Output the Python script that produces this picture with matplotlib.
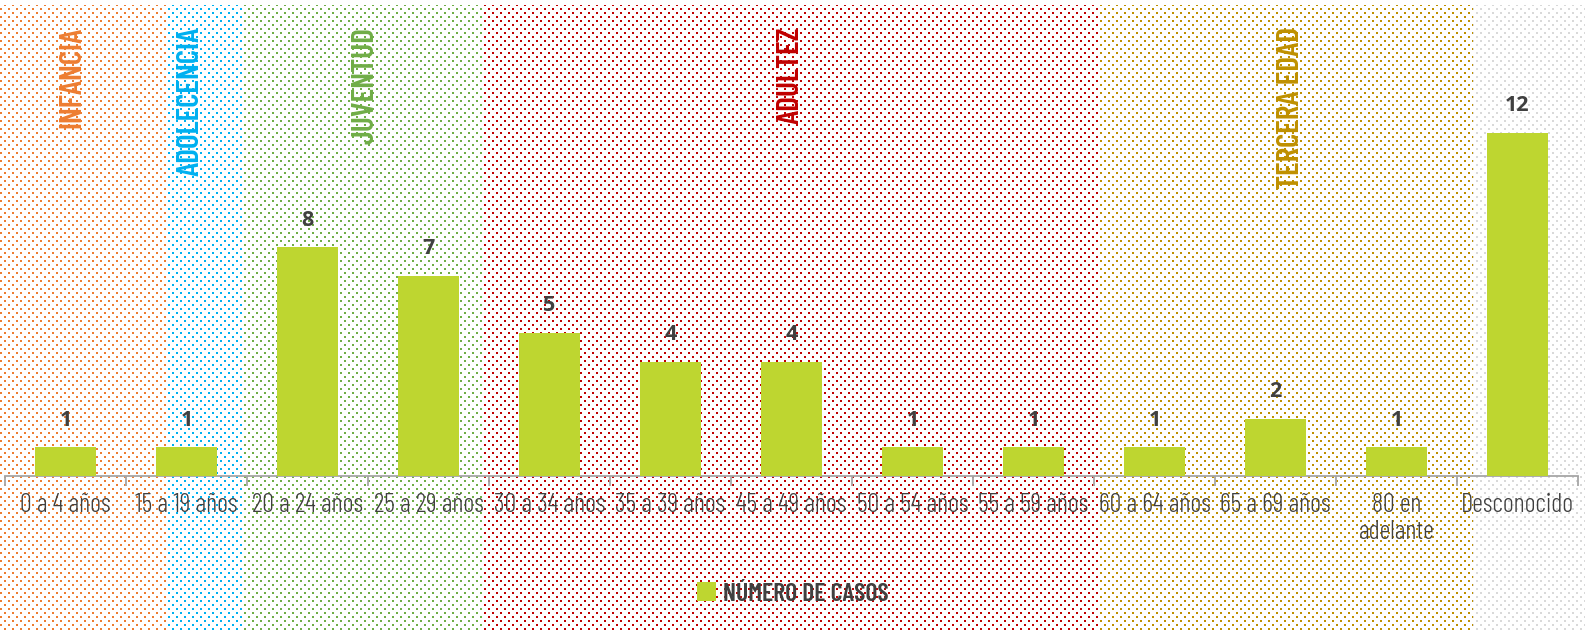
import numpy as np
import matplotlib
matplotlib.use("Agg")
import matplotlib.pyplot as plt
from matplotlib.colors import to_rgb
from matplotlib import font_manager

# ---------------- data ----------------
categories = ["0 a 4 años", "15 a 19 años", "20 a 24 años", "25 a 29 años",
              "30 a 34 años", "35 a 39 años", "45 a 49 años", "50 a 54 años",
              "55 a 59 años", "60 a 64 años", "65 a 69 años", "80 en\nadelante",
              "Desconocido"]
casos = [1, 1, 8, 7, 5, 4, 4, 1, 1, 1, 2, 1, 12]
series_name = "NÚMERO DE CASOS"

# age-group bands (in category-axis units) and their labels
group_names = ["INFANCIA", "ADOLECENCIA", "JUVENTUD", "ADULTEZ", "TERCERA EDAD"]
group_edges = [-0.6, 0.84, 1.47, 3.45, 8.53, 11.63, 12.6]
group_label_x = [0.06, 1.03, 2.48, 5.99, 10.13]
group_colors = ["#ED7D31", "#00B0F0", "#70AD47", "#C00000", "#BF9000", "#D9D9D9"]

BAR = "#BED630"
TXT = "#404040"

avail = {f.name for f in font_manager.fontManager.ttflist}


def pick(*names):
    for n in names:
        if n in avail:
            return n
    return "DejaVu Sans"


cond = pick("Barlow Condensed", "Asap Condensed", "Archivo Narrow")
numfont = pick("Open Sans", "DejaVu Sans")

W, H, DPI = 1585, 630, 100
fig = plt.figure(figsize=(W / DPI, H / DPI), dpi=DPI)

ax_left, ax_right = 5 / W, 1578 / W
ax_bottom, ax_top = (H - 476) / H, (H - 5) / H
ax = fig.add_axes([ax_left, ax_bottom, ax_right - ax_left, ax_top - ax_bottom])
ax.set_xlim(-0.5, len(categories) - 0.5)
px_per_unit = 28.6
ax.set_ylim(0, (476 - 5) / px_per_unit)
ax.patch.set_visible(False)

# ---------------- dotted background texture ----------------
bg = fig.add_axes([0, 0, 1, 1], zorder=-10)
bg.set_axis_off()
img = np.ones((H, W, 3))
rows = np.arange(H)[:, None]
cols = np.arange(W)[None, :]
dots = ((rows % 4) < 2) & (((cols + ((rows // 4) % 2) * 4) % 8) < 2) & (rows >= 5)
edges_px = [ax.transData.transform((e, 0))[0] for e in group_edges]
for i, col in enumerate(group_colors):
    x0 = 0 if i == 0 else int(round(edges_px[i]))
    x1 = W if i == len(group_colors) - 1 else int(round(edges_px[i + 1]))
    band = np.zeros((1, W), dtype=bool)
    band[0, x0:x1] = True
    img[dots & band] = to_rgb(col)
bg.imshow(img, extent=(0, 1, 0, 1), aspect="auto", interpolation="nearest")
bg.set_xlim(0, 1)
bg.set_ylim(0, 1)

# ---------------- bars ----------------
x = np.arange(len(categories))
bars = ax.bar(x, casos, width=0.5, color=BAR, zorder=3, label=series_name)
for xi, v in zip(x, casos):
    ax.annotate(str(v), (xi, v), xytext=(0, 12), textcoords="offset points",
                ha="center", va="bottom", fontsize=15.5, fontweight="bold",
                color=TXT, family=numfont)

# ---------------- axes styling ----------------
for s in ["top", "right", "left"]:
    ax.spines[s].set_visible(False)
ax.spines["bottom"].set_color("#A6A6A6")
ax.spines["bottom"].set_linewidth(1.3)
ax.set_yticks([])
ax.set_xticks(x)
ax.set_xticklabels(categories, fontsize=19, color=TXT, family=cond,
                   fontweight=300, linespacing=1.15)
ax.tick_params(axis="x", which="major", length=0, pad=12)
ax.set_xticks(np.arange(-0.5, len(categories), 1.0), minor=True)
ax.tick_params(axis="x", which="minor", length=7, width=1.3, color="#A6A6A6", direction="out")

# ---------------- group labels ----------------
for name, gx, col in zip(group_names, group_label_x, group_colors):
    ax.text(gx, (476 - 27) / px_per_unit, name, rotation=90, ha="center", va="top",
            fontsize=22.5, color=col, family=cond, fontweight=600)

# ---------------- legend ----------------
leg = ax.legend(handles=[bars], loc="center", bbox_to_anchor=(0.5, 0.057),
                bbox_transform=fig.transFigure, frameon=False,
                handlelength=0.75, handleheight=0.75, handletextpad=0.25,
                prop={"family": cond, "weight": 600, "size": 18.5})
for t in leg.get_texts():
    t.set_color(TXT)

fig.savefig("out.png", dpi=DPI)
